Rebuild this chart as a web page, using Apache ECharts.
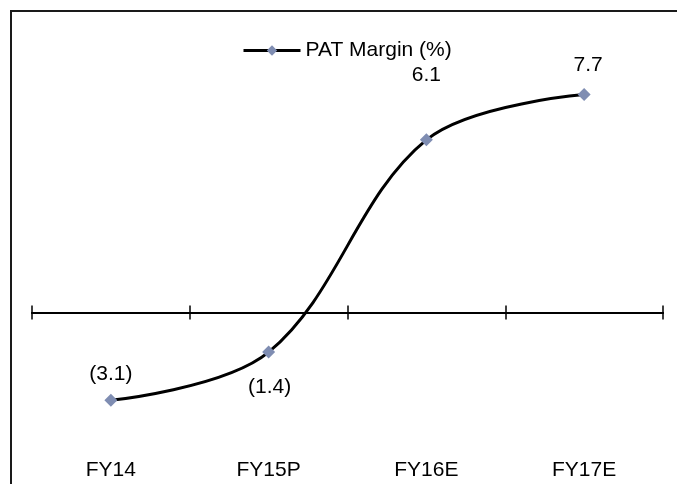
<!DOCTYPE html>
<html>
<head>
<meta charset="utf-8">
<script src="https://cdn.jsdelivr.net/npm/echarts@6/dist/echarts.min.js"></script>
<style>
  html, body { margin: 0; padding: 0; background: #ffffff; }
  #chart { width: 677px; height: 484px; }
</style>
</head>
<body>
<div id="chart"></div>
<script>
// Fiscal years and profit-after-tax margin (%)
var categories = ['FY14', 'FY15P', 'FY16E', 'FY17E'];
var patMargin = [-3.1, -1.4, 6.1, 7.7];
var seriesName = 'PAT Margin (%)';

// Where each value label sits relative to its marker: [dx, dy]
var labelOffsets = [[0, -26], [1, 35], [0, -65], [4, -29]];

function fmt(v) {
  return v < 0 ? '(' + Math.abs(v).toFixed(1) + ')' : v.toFixed(1);
}

var FONT = 'Liberation Sans, Arial, sans-serif';

var seriesData = patMargin.map(function (v, i) {
  return {
    value: v,
    label: {
      show: true,
      position: 'inside',
      offset: labelOffsets[i],
      formatter: function (p) { return fmt(p.value); }
    }
  };
});

var valueAxisBase = {
  type: 'value',
  min: -5,
  max: 10,
  interval: 5,
  axisLine: { show: false },
  axisTick: { show: false },
  axisLabel: { show: false },
  splitLine: { show: false }
};

var chart = echarts.init(document.getElementById('chart'), null, { renderer: 'canvas' });

chart.setOption({
  animation: false,
  backgroundColor: '#ffffff',
  textStyle: { fontFamily: FONT },
  graphic: [{
    type: 'polyline',
    shape: { points: [[11, 484], [11, 11], [677, 11]] },
    style: { stroke: '#1a1a1a', lineWidth: 2, fill: null }
  }],
  legend: {
    left: 237,
    top: 35,
    itemWidth: 57,
    itemHeight: 13,
    itemGap: 5,
    lineStyle: { width: 3, color: '#000' },
    textStyle: { fontSize: 21, color: '#000', fontFamily: FONT },
    data: [seriesName]
  },
  grid: { left: 32, right: 14, top: 29.5, bottom: 30 },
  xAxis: [
    {
      // zero line with ticks hanging below
      type: 'category',
      data: categories,
      boundaryGap: true,
      axisLine: { onZero: true, onZeroAxisIndex: 0, lineStyle: { color: '#000', width: 2 } },
      axisTick: { show: true, length: 7, lineStyle: { color: '#000', width: 1.5 } },
      axisLabel: { show: false },
      splitLine: { show: false }
    },
    {
      // same zero line, ticks rising above
      type: 'category',
      data: categories,
      boundaryGap: true,
      position: 'top',
      axisLine: { onZero: true, onZeroAxisIndex: 1, lineStyle: { color: '#000', width: 2 } },
      axisTick: { show: true, length: 7, lineStyle: { color: '#000', width: 1.5 } },
      axisLabel: { show: false },
      splitLine: { show: false }
    },
    {
      // category names along the bottom of the plot
      type: 'category',
      data: categories,
      boundaryGap: true,
      position: 'bottom',
      offset: 0,
      axisLine: { show: false, onZero: false },
      axisTick: { show: false },
      axisLabel: { show: true, margin: 6, fontSize: 21, color: '#000', fontFamily: FONT },
      splitLine: { show: false }
    }
  ],
  yAxis: [
    Object.assign({}, valueAxisBase),
    Object.assign({}, valueAxisBase)
  ],
  series: [{
    name: seriesName,
    type: 'line',
    xAxisIndex: 0,
    yAxisIndex: 0,
    data: seriesData,
    smooth: 0.36,
    symbol: 'diamond',
    symbolSize: 13,
    showAllSymbol: true,
    lineStyle: { color: '#000', width: 3 },
    itemStyle: { color: '#7F8DB2', borderWidth: 0 },
    label: { fontSize: 21, color: '#000', fontFamily: FONT },
    z: 3
  }]
});
</script>
</body>
</html>
